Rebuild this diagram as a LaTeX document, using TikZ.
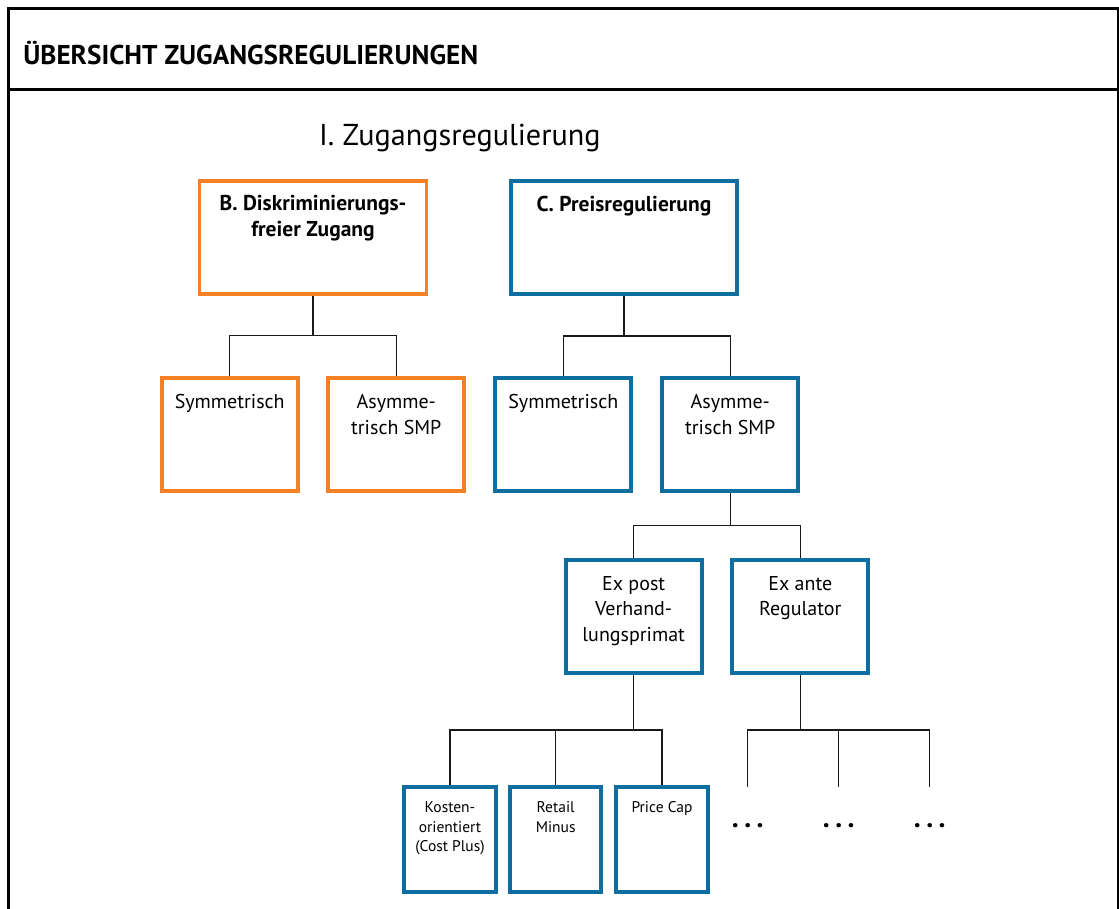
\documentclass[tikz,border=0pt]{standalone}
\usepackage{fontspec}
\setmainfont{PT Sans}
\definecolor{orng}{RGB}{247,127,36}
\definecolor{blu}{RGB}{14,110,160}
\newcommand{\bxt}[4]{\parbox[c][#2][t]{#1}{\centering\rule{0pt}{#3}#4}}
\tikzset{
  obox/.style={draw=orng, line width=3.8pt, inner sep=0pt},
  bbox/.style={draw=blu, line width=3.8pt, inner sep=0pt},
  conn/.style={draw=black!90, line width=1.3pt},
  frame/.style={draw=black, line width=3pt},
  big/.style={font=\fontsize{20}{26}\selectfont},
  bold/.style={font=\fontsize{21.5}{26}\selectfont\bfseries},
  small/.style={font=\fontsize{15.5}{19.5}\selectfont},
  dots/.style={anchor=base, inner sep=0pt, font=\fontsize{28}{28}\selectfont\bfseries},
}
\begin{document}
\begin{tikzpicture}[x=1pt,y=-1pt]
\useasboundingbox (0,0) rectangle (1119,909);
% frame
\draw[frame] (8.3,909) -- (8.3,8.7) -- (1118.5,8.7) -- (1118.5,909);
\draw[frame] (8.3,89.5) -- (1118.5,89.5);
\node[anchor=base west, inner sep=0pt, font=\fontsize{27.2}{30}\selectfont\bfseries] (hdr) at (23.2,65) {ÜBERSICHT ZUGANGSREGULIERUNGEN};
\node[anchor=base west, inner sep=0pt, font=\fontsize{30.2}{36}\selectfont] (ttl) at (319,146) {I. Zugangsregulierung};
% level 1
\node[obox, bold] (B) at (313,237.7) {\bxt{227pt}{113pt}{29.7pt}{B. Diskriminierungs-\\freier Zugang}};
\node[bbox, bold] (C) at (624,237.7) {\bxt{226.6pt}{113pt}{30.7pt}{C. Preisregulierung}};
% level 2
\node[obox, big] (BS) at (229.7,434.7) {\bxt{136pt}{112.7pt}{30pt}{Symmetrisch}};
\node[obox, big] (BA) at (396.3,434.7) {\bxt{136pt}{112.7pt}{30pt}{Asymme-\\trisch SMP}};
\node[bbox, big] (CS) at (563.3,434.7) {\bxt{136pt}{112.7pt}{30pt}{Symmetrisch}};
\node[bbox, big] (CA) at (730.3,434.7) {\bxt{136pt}{112.7pt}{30pt}{Asymme-\\trisch SMP}};
% level 3
\node[bbox, font=\fontsize{20}{25.5}\selectfont] (EP) at (633.7,616.5) {\bxt{136pt}{112.3pt}{29.7pt}{Ex post\\Verhand-\\lungsprimat}};
\node[bbox, font=\fontsize{20}{25.5}\selectfont] (EA) at (800.3,616.5) {\bxt{136pt}{112.3pt}{29.7pt}{Ex ante\\Regulator}};
% level 4
\node[bbox, small] (K) at (450,839.8) {\bxt{91.3pt}{105pt}{25.4pt}{Kosten-\\orientiert\\(Cost Plus)}};
\node[bbox, small] (R) at (555.7,839.8) {\bxt{91.3pt}{105pt}{25.4pt}{Retail\\Minus}};
\node[bbox, small] (P) at (662,839.8) {\bxt{91.3pt}{105pt}{25.4pt}{Price Cap}};
% free ends
\coordinate (f1) at (747.7,787.3);
\coordinate (f2) at (838.7,787.3);
\coordinate (f3) at (929.7,787.3);
\node[dots] (d1) at (747.7,827) {.\kern5.5pt.\kern5.5pt.};
\node[dots] (d2) at (838.7,827) {.\kern5.5pt.\kern5.5pt.};
\node[dots] (d3) at (929.7,827) {.\kern5.5pt.\kern5.5pt.};
% junctions
\coordinate (jB) at (B.south |- 0,335.7);
\coordinate (jC) at (C.south |- 0,336);
\coordinate (jCA) at (CA.south |- 0,525.7);
\coordinate (jEP) at (EP.south |- 0,730);
\coordinate (jEA) at (EA.south |- 0,730);
% connectors
\draw[conn] (B.south) -- (jB);
\draw[conn] (BS.north) |- (jB) -| (BA.north);
\draw[conn] (C.south) -- (jC);
\draw[conn] (CS.north) |- (jC) -| (CA.north);
\draw[conn] (CA.south) -- (jCA);
\draw[conn] (EP.north) |- (jCA) -| (EA.north);
\draw[conn] (EP.south) -- (jEP);
\draw[conn] (K.north) |- (jEP) -| (P.north);
\draw[conn] (R.north) -- (R.north |- jEP);
\draw[conn] (EA.south) -- (jEA);
\draw[conn] (f1) |- (jEA) -| (f3);
\draw[conn] (f2) -- (f2 |- jEA);
\end{tikzpicture}
\end{document}
